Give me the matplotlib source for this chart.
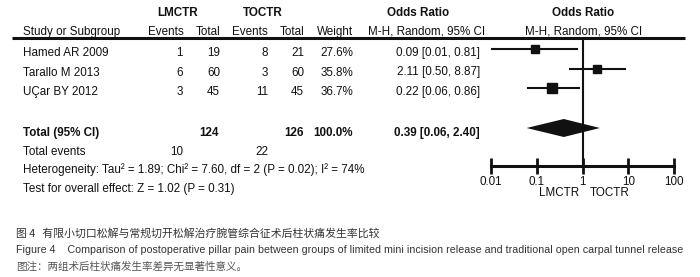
import matplotlib.pyplot as plt
import numpy as np

# ---------------------------------------------------------------------------
# Data
# ---------------------------------------------------------------------------
studies = ['Hamed AR 2009', 'Tarallo M 2013', 'UÇar BY 2012']
lm_events = [1, 6, 3]
lm_total = [19, 60, 45]
to_events = [8, 3, 11]
to_total = [21, 60, 45]
weights = [27.6, 35.8, 36.7]
odds = [0.09, 2.11, 0.22]
ci_low = [0.01, 0.50, 0.06]
ci_high = [0.81, 8.87, 0.86]

total_or = 0.39
total_low = 0.06
total_high = 2.40
total_lm = 124
total_to = 126
events_lm = 10
events_to = 22

ticks = [0.01, 0.1, 1, 10, 100]
tick_labels = ['0.01', '0.1', '1', '10', '100']

SANS = ['Liberation Sans', 'DejaVu Sans']
CJK = ['Noto Sans CJK SC', 'DejaVu Sans']
FS = 8.4
INK = '#111111'

W, H = 700, 277
fig = plt.figure(figsize=(W / 100, H / 100), dpi=100)

# text layer in pixel coordinates
ax = fig.add_axes([0, 0, 1, 1])
ax.set_xlim(0, W)
ax.set_ylim(H, 0)
ax.axis('off')


def txt(x, y, s, ha='left', bold=False, size=FS, color=INK, family=SANS):
    ax.text(x, y, s, ha=ha, va='center', fontsize=size, color=color,
            fontweight='bold' if bold else 'normal', family=family)


# header
txt(178, 13, 'LMCTR', ha='center', bold=True)
txt(263, 13, 'TOCTR', ha='center', bold=True)
txt(418, 13, 'Odds Ratio', ha='center', bold=True)
txt(583, 13, 'Odds Ratio', ha='center', bold=True)

hy = 32
txt(23, hy, 'Study or Subgroup')
txt(184, hy, 'Events', ha='right')
txt(220, hy, 'Total', ha='right')
txt(268, hy, 'Events', ha='right')
txt(304, hy, 'Total', ha='right')
txt(353, hy, 'Weight', ha='right')
txt(427, hy, 'M-H, Random, 95% CI', ha='center')
txt(584, hy, 'M-H, Random, 95% CI', ha='center')
ax.plot([12, 685], [38, 38], color=INK, lw=2.2, solid_capstyle='butt')

# study rows
row_y = 53
row_step = 19.5
for i, name in enumerate(studies):
    y = row_y + i * row_step
    txt(23, y, name)
    txt(183, y, str(lm_events[i]), ha='right')
    txt(220, y, str(lm_total[i]), ha='right')
    txt(268, y, str(to_events[i]), ha='right')
    txt(304, y, str(to_total[i]), ha='right')
    txt(353, y, f'{weights[i]:.1f}%', ha='right')
    txt(480, y, f'{odds[i]:.2f} [{ci_low[i]:.2f}, {ci_high[i]:.2f}]', ha='right')

# total rows
ty = 133
txt(23, ty, 'Total (95% CI)', bold=True)
txt(219, ty, str(total_lm), ha='right', bold=True)
txt(304, ty, str(total_to), ha='right', bold=True)
txt(353, ty, '100.0%', ha='right', bold=True)
txt(480, ty, f'{total_or:.2f} [{total_low:.2f}, {total_high:.2f}]', ha='right', bold=True)

txt(23, 152, 'Total events')
txt(177, 152, str(events_lm), ha='center')
txt(262, 152, str(events_to), ha='center')
txt(23, 170, 'Heterogeneity: Tau² = 1.89; Chi² = 7.60, df = 2 (P = 0.02); I² = 74%')
txt(23, 189, 'Test for overall effect: Z = 1.02 (P = 0.31)')

# captions
txt(16, 233, '图 4   有限小切口松解与常规切开松解治疗腕管综合征术后柱状痛发生率比较',
    size=7.8, color='#333333', family=CJK)
txt(16, 250, 'Figure 4    Comparison of postoperative pillar pain between groups of '
    'limited mini incision release and traditional open carpal tunnel release',
    size=7.65, color='#333333')
txt(16, 267, '图注：两组术后柱状痛发生率差异无显著性意义。',
    size=7.6, color='#555555', family=CJK)

# ---------------------------------------------------------------------------
# forest panel (pixel y, log x)
# ---------------------------------------------------------------------------
x0, x1 = 491, 674
y_top, y_axis = 38, 166
fax = fig.add_axes([x0 / W, (H - y_axis) / H, (x1 - x0) / W, (y_axis - y_top) / H])
fax.patch.set_alpha(0)
fax.set_xscale('log')
fax.set_xlim(ticks[0], ticks[-1])
fax.set_ylim(y_axis, y_top)
for s in ['top', 'left', 'right']:
    fax.spines[s].set_visible(False)
fax.spines['bottom'].set_linewidth(2.2)
fax.spines['bottom'].set_color(INK)
fax.set_yticks([])
fax.set_xticks(ticks)
fax.set_xticklabels(tick_labels, family=SANS, fontsize=FS, color=INK)
fax.minorticks_off()
fax.tick_params(axis='x', direction='inout', length=11, width=2, color=INK, pad=2)
fax.axvline(1, color=INK, lw=1.5)

mark_off = -4
for i in range(len(studies)):
    y = row_y + i * row_step + mark_off
    fax.plot([ci_low[i], ci_high[i]], [y, y], color=INK, lw=1.5,
             clip_on=False, solid_capstyle='butt')
    fax.plot(odds[i], y, marker='s', color=INK,
             markersize=np.sqrt(weights[i]) * 1.08, clip_on=False)

dy = 128
fax.fill([total_low, total_or, total_high, total_or],
         [dy, dy - 9, dy, dy + 9], color=INK, lw=0)

ax.text(579, 193, 'LMCTR', ha='right', va='center', fontsize=FS,
        color=INK, family=SANS)
ax.text(590, 193, 'TOCTR', ha='left', va='center', fontsize=FS,
        color=INK, family=SANS)

fig.savefig('out.png', dpi=100)
